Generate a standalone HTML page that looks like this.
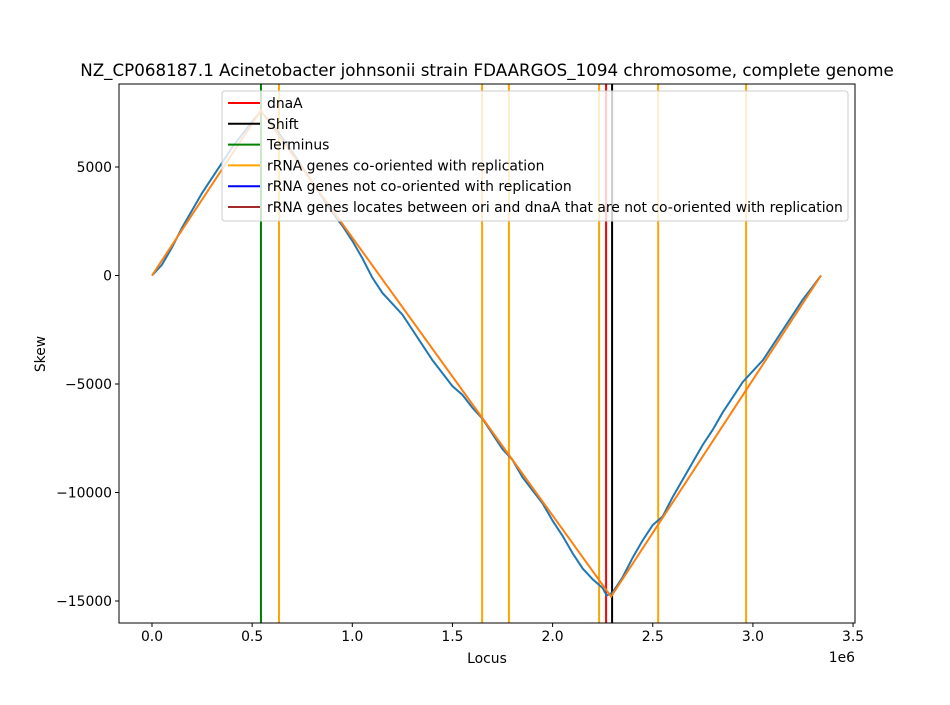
<!DOCTYPE html>
<html><head><meta charset="utf-8"><style>
body{margin:0;background:#fff}
text{font-family:"DejaVu Sans","Liberation Sans",sans-serif;fill:#000}
</style></head><body>
<svg id="chart" width="950" height="700" xmlns="http://www.w3.org/2000/svg">
<rect width="950" height="700" fill="#fff"/>
<text x="487" y="76" font-size="16.7" text-anchor="middle">NZ_CP068187.1 Acinetobacter johnsonii strain FDAARGOS_1094 chromosome, complete genome</text>
<g id="plot"></g>
<text x="487" y="663" font-size="13.9" text-anchor="middle">Locus</text>
<text x="45" y="354" font-size="13.9" text-anchor="middle" transform="rotate(-90 45 354)">Skew</text>
<text x="855" y="662" font-size="13.9" text-anchor="end">1e6</text>
</svg>
<script>
const skewX=[0,0.05,0.1,0.15,0.2,0.25,0.3,0.35,0.4,0.45,0.5,0.543,0.6,0.7,0.8,0.9,0.95,1.0,1.05,1.1,1.15,1.2,1.25,1.3,1.35,1.4,1.45,1.5,1.55,1.6,1.65,1.7,1.75,1.8,1.85,1.9,1.95,2.0,2.05,2.1,2.15,2.2,2.25,2.27,2.3,2.35,2.4,2.45,2.5,2.55,2.6,2.65,2.7,2.75,2.8,2.85,2.9,2.95,3.0,3.05,3.1,3.15,3.2,3.25,3.3,3.34];
const skewY=[0,500,1300,2200,3000,3800,4500,5200,5900,6500,7100,7550,7000,5700,4300,2900,2300,1600,800,-100,-800,-1300,-1800,-2500,-3200,-3900,-4500,-5100,-5500,-6100,-6600,-7300,-8000,-8500,-9300,-9900,-10500,-11300,-12000,-12800,-13500,-14000,-14400,-14750,-14600,-13900,-13000,-12200,-11500,-11100,-10200,-9400,-8600,-7800,-7100,-6300,-5600,-4900,-4400,-3900,-3200,-2500,-1800,-1100,-500,0];
const fitX=[0,0.543,2.292,3.34];
const fitY=[0,7600,-14800,0];
const dnaA=[2.267],shift=[2.297],terminus=[0.544];
const rrnaCo=[0.634,1.648,1.782,2.232,2.527,2.966];
const xTicks=[0,0.5,1.0,1.5,2.0,2.5,3.0,3.5];
const yTicks=[5000,0,-5000,-10000,-15000];
const yTickLabels=["5000","0","\u22125000","\u221210000","\u221215000"];
const L=119,R=855,T=84,B=623;
const X=v=>152+v*200.3, Y=v=>275.5-v*0.0217;
const NS="http://www.w3.org/2000/svg",g=document.getElementById('plot');
function el(t,a){const e=document.createElementNS(NS,t);for(const k in a)e.setAttribute(k,a[k]);g.appendChild(e);return e;}
let e;
rrnaCo.forEach(v=>{e=el('line',{x1:X(v),x2:X(v),y1:T,y2:B,stroke:'#ffa500','stroke-width':2});

});
[[terminus,'#008000','terminus-line'],[dnaA,'#ff0000','dnaa-line'],[shift,'#000','shift-line']].forEach(([a,c,n])=>a.forEach(v=>{e=el('line',{x1:X(v),x2:X(v),y1:T,y2:B,stroke:c,'stroke-width':2});

}));
e=el('polyline',{points:skewX.map((x,i)=>X(x)+','+Y(skewY[i])).join(' '),fill:'none',stroke:'#1f77b4','stroke-width':2});


e=el('polyline',{points:fitX.map((x,i)=>X(x)+','+Y(fitY[i])).join(' '),fill:'none',stroke:'#ff7f0e','stroke-width':2});


e=el('rect',{x:L,y:T,width:R-L,height:B-T,fill:'none',stroke:'#000','stroke-width':1});


xTicks.forEach(v=>{el('line',{x1:X(v),x2:X(v),y1:B,y2:B+4,stroke:'#000'});
e=el('text',{x:X(v),y:B+18,'font-size':13.9,'text-anchor':'middle'});e.textContent=v.toFixed(1);

});
yTicks.forEach((v,i)=>{el('line',{x1:L-4,x2:L,y1:Y(v),y2:Y(v),stroke:'#000'});
e=el('text',{x:L-7,y:Y(v)+5,'font-size':13.9,'text-anchor':'end'});e.textContent=yTickLabels[i];

});
const lg=[['dnaA','#ff0000'],['Shift','#000'],['Terminus','#008000'],['rRNA genes co-oriented with replication','#ffa500'],['rRNA genes not co-oriented with replication','#0000ff'],['rRNA genes locates between ori and dnaA that are not co-oriented with replication','#a52a2a']];
e=el('rect',{x:222,y:91,width:626,height:130,rx:3,fill:'#fff','fill-opacity':0.8,stroke:'#ccc'});


lg.forEach(([t,c],i)=>{const y=103+i*20.8;
el('line',{x1:228,x2:260,y1:y,y2:y,stroke:c,'stroke-width':2});
e=el('text',{x:267,y:y+5,'font-size':13.9});e.textContent=t;

});
</script>
</body></html>
